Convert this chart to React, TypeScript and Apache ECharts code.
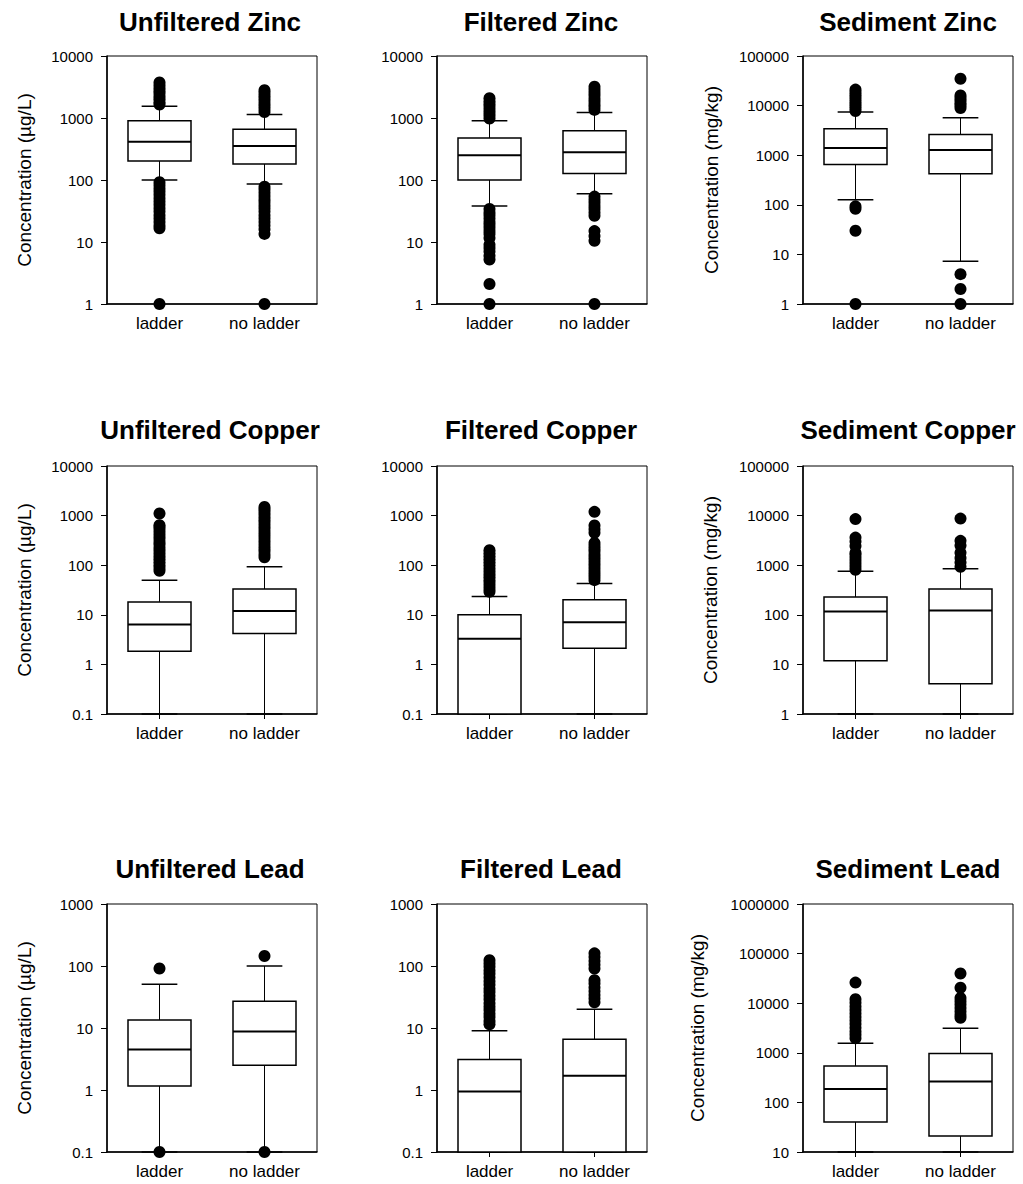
import React, { useEffect, useRef } from "react";
import * as echarts from "echarts";

const FONT = "'Liberation Sans', Arial, Helvetica, sans-serif";

const categories = ["ladder", "no ladder"];

const panelTitles = [
  "Unfiltered Zinc", "Filtered Zinc", "Sediment Zinc",
  "Unfiltered Copper", "Filtered Copper", "Sediment Copper",
  "Unfiltered Lead", "Filtered Lead", "Sediment Lead",
];

const yAxisNames = [
  "Concentration (µg/L)", "", "Concentration (mg/kg)",
  "Concentration (µg/L)", "", "Concentration (mg/kg)",
  "Concentration (µg/L)", "", "Concentration (mg/kg)",
];

const yMin = [1, 1, 1, 0.1, 0.1, 1, 0.1, 0.1, 10];
const yMax = [10000, 10000, 100000, 10000, 10000, 100000, 1000, 1000, 1000000];

// Box statistics per category: [lower whisker, Q1, median, Q3, upper whisker]
const unfilteredZincBoxes = [[100, 202, 414, 900, 1550], [86, 181, 352, 660, 1140]];
const filteredZincBoxes = [[38, 100, 250, 475, 903], [60, 127, 280, 624, 1230]];
const sedimentZincBoxes = [[126, 650, 1390, 3410, 7400], [7.25, 421, 1280, 2620, 5690]];
const unfilteredCopperBoxes = [[0.1, 1.84, 6.4, 18.2, 50], [0.1, 4.2, 11.9, 33, 93]];
const filteredCopperBoxes = [[0.1, 0.1, 3.28, 10, 23.5], [0.1, 2.12, 7.1, 20.2, 43]];
const sedimentCopperBoxes = [[1, 11.8, 116, 228, 758], [1, 4.07, 122, 331, 845]];
const unfilteredLeadBoxes = [[0.1, 1.16, 4.5, 13.5, 51], [0.1, 2.5, 8.75, 26.9, 100]];
const filteredLeadBoxes = [[0.1, 0.1, 0.95, 3.1, 9.0], [0.1, 0.1, 1.7, 6.6, 20]];
const sedimentLeadBoxes = [[10, 40.3, 187, 543, 1550], [10, 20.9, 264, 970, 3140]];

// Outliers per category: [ladder values, no ladder values]
const unfilteredZincOutliers = [
  [1650, 1800, 2000, 2200, 2450, 2700, 3000, 3350, 3750,
   92, 82, 73, 65, 58, 51, 45, 40, 35, 31, 27, 24, 21, 18.5, 16.7, 1],
  [1250, 1400, 1550, 1700, 1900, 2100, 2300, 2550, 2800,
   78, 70, 62, 55, 49, 44, 39, 35, 31, 27, 24, 21, 18.5, 16, 13.5, 1],
];
const filteredZincOutliers = [
  [980, 1100, 1220, 1350, 1500, 1660, 1850, 2090,
   34, 30, 27, 24, 21, 19, 17, 15, 13.5, 11.6, 9, 8, 7, 6, 5.2, 2.1, 1],
  [1350, 1500, 1650, 1850, 2050, 2300, 2550, 2850, 3200,
   54, 48, 43, 38, 34, 30, 26.5, 15, 12.5, 10.5, 1],
];
const sedimentZincOutliers = [
  [7800, 8700, 9700, 10800, 12000, 13400, 15000, 16800, 18800, 21000, 93, 83, 30, 1],
  [8900, 10000, 11200, 12600, 14200, 16000, 34800, 4.0, 2.0, 1],
];
const unfilteredCopperOutliers = [
  [77, 88, 100, 115, 132, 150, 172, 197, 225, 260, 295, 340, 390, 445, 510, 580, 640, 1100],
  [145, 165, 190, 215, 245, 280, 320, 365, 415, 475, 540, 620, 710, 810, 920, 1050, 1200, 1350, 1490],
];
const filteredCopperOutliers = [
  [29, 33, 38, 44, 50, 57, 65, 75, 86, 100, 115, 132, 152, 175, 200],
  [50, 57, 65, 74, 85, 97, 111, 127, 145, 165, 190, 215, 245, 280, 450, 530, 630, 1190],
];
const sedimentCopperOutliers = [
  [810, 930, 1070, 1230, 1420, 1630, 1780, 2450, 3000, 3600, 8500],
  [930, 1130, 1400, 1780, 2500, 3100, 8700],
];
const unfilteredLeadOutliers = [
  [91, 0.1],
  [145, 0.1],
];
const filteredLeadOutliers = [
  [11.5, 13, 15, 17, 19.5, 22, 25, 29, 33, 38, 43, 50, 57, 65, 75, 85, 97, 110, 124],
  [26, 30, 34, 39, 45, 52, 59, 91, 105, 120, 140, 160],
];
const sedimentLeadOutliers = [
  [1960, 2300, 2700, 3200, 3800, 4500, 5300, 6200, 7300, 8600, 10200, 12000, 26000],
  [5100, 5800, 6800, 8000, 9400, 11000, 12800, 20500, 39700],
];

const panelBoxes = [
  unfilteredZincBoxes, filteredZincBoxes, sedimentZincBoxes,
  unfilteredCopperBoxes, filteredCopperBoxes, sedimentCopperBoxes,
  unfilteredLeadBoxes, filteredLeadBoxes, sedimentLeadBoxes,
];
const panelOutliers = [
  unfilteredZincOutliers, filteredZincOutliers, sedimentZincOutliers,
  unfilteredCopperOutliers, filteredCopperOutliers, sedimentCopperOutliers,
  unfilteredLeadOutliers, filteredLeadOutliers, sedimentLeadOutliers,
];

// Layout
const colLeft = [107, 437, 803];
const rowTop = [56, 466, 904];
const gridW = 210;
const gridH = 248;
const titleX = [210, 541, 908];
const titleY = [22, 430, 869];
const nameGaps = [73, 0, 82, 73, 0, 83, 73, 0, 96];

function fmt(v: number) {
  if (v < 1) return String(Number(v.toPrecision(3)));
  return String(Math.round(v));
}

export default function App() {
  const ref = useRef<HTMLDivElement>(null);

  useEffect(() => {
    if (!ref.current) return;
    const chart = echarts.init(ref.current, undefined, { renderer: "svg" });

    const grid: any[] = [];
    const xAxis: any[] = [];
    const yAxis: any[] = [];
    const series: any[] = [];
    const graphic: any[] = [];

    for (let i = 0; i < 9; i++) {
      const r = Math.floor(i / 3);
      const c = i % 3;
      grid.push({
        left: colLeft[c],
        top: rowTop[r],
        width: gridW,
        height: gridH,
        show: true,
        borderColor: "#000",
        borderWidth: 1,
        backgroundColor: "transparent",
      });
      xAxis.push({
        gridIndex: i,
        type: "category",
        data: categories,
        boundaryGap: true,
        axisLine: { show: true, lineStyle: { color: "#000", width: 1.5 } },
        axisTick: { show: true, alignWithLabel: true, length: 5, lineStyle: { color: "#000", width: 1 } },
        axisLabel: { color: "#000", fontSize: 17, fontFamily: FONT, margin: 11 },
        splitLine: { show: false },
      });
      yAxis.push({
        gridIndex: i,
        type: "log",
        logBase: 10,
        min: yMin[i],
        max: yMax[i],
        axisLine: { show: true, lineStyle: { color: "#000", width: 1.5 } },
        axisTick: { show: true, length: 6, lineStyle: { color: "#000", width: 1 } },
        minorTick: { show: false },
        axisLabel: { color: "#000", fontSize: 15, fontFamily: FONT, margin: 14, formatter: (v: number) => fmt(v) },
        splitLine: { show: false },
        name: yAxisNames[i],
        nameLocation: "middle",
        nameGap: nameGaps[i],
        nameTextStyle: { color: "#000", fontSize: 19, fontFamily: FONT },
      });

      const boxData = panelBoxes[i].map((b, k) => [k, ...b]);
      series.push({
        type: "custom",
        xAxisIndex: i,
        yAxisIndex: i,
        encode: { x: 0, y: [1, 2, 3, 4, 5] },
        data: boxData,
        z: 2,
        renderItem: (params: any, api: any) => {
          const cat = api.value(0);
          const lo = api.value(1);
          const q1 = api.value(2);
          const med = api.value(3);
          const q3 = api.value(4);
          const hi = api.value(5);
          const pLo = api.coord([cat, lo]);
          const pQ1 = api.coord([cat, q1]);
          const pMed = api.coord([cat, med]);
          const pQ3 = api.coord([cat, q3]);
          const pHi = api.coord([cat, hi]);
          const band = Math.abs(api.coord([1, med])[0] - api.coord([0, med])[0]);
          const bw = band * 0.6;
          const cw = band * 0.34;
          const x = pMed[0];
          const stroke = { stroke: "#000", lineWidth: 1 };
          return {
            type: "group",
            children: [
              { type: "line", shape: { x1: x, y1: pHi[1], x2: x, y2: pQ3[1] }, style: stroke },
              { type: "line", shape: { x1: x, y1: pQ1[1], x2: x, y2: pLo[1] }, style: stroke },
              { type: "line", shape: { x1: x - cw / 2, y1: pHi[1], x2: x + cw / 2, y2: pHi[1] }, style: { stroke: "#000", lineWidth: 1.5 } },
              { type: "line", shape: { x1: x - cw / 2, y1: pLo[1], x2: x + cw / 2, y2: pLo[1] }, style: { stroke: "#000", lineWidth: 1.5 } },
              {
                type: "rect",
                shape: { x: x - bw / 2, y: pQ3[1], width: bw, height: pQ1[1] - pQ3[1] },
                style: { fill: "#fff", stroke: "#000", lineWidth: 1.5 },
              },
              { type: "line", shape: { x1: x - bw / 2, y1: pMed[1], x2: x + bw / 2, y2: pMed[1] }, style: { stroke: "#000", lineWidth: 2 } },
            ],
          };
        },
      });

      const outData: number[][] = [];
      panelOutliers[i].forEach((vals, k) => vals.forEach((v) => outData.push([k, v])));
      series.push({
        type: "scatter",
        xAxisIndex: i,
        yAxisIndex: i,
        data: outData,
        symbol: "circle",
        symbolSize: 12,
        itemStyle: { color: "#000", opacity: 1 },
        clip: false,
        z: 3,
      });

      graphic.push({
        type: "text",
        x: titleX[c],
        y: titleY[r],
        style: {
          text: panelTitles[i],
          font: `bold 26px ${FONT}`,
          fill: "#000",
          textAlign: "center",
          textVerticalAlign: "middle",
        },
      });
    }

    chart.setOption({
      animation: false,
      backgroundColor: "#fff",
      textStyle: { fontFamily: FONT },
      grid,
      xAxis,
      yAxis,
      series,
      graphic,
    });

    return () => chart.dispose();
  }, []);

  return (
    <div
      ref={ref}
      style={{ position: "absolute", left: 0, top: 0, width: 1023, height: 1184, background: "#fff" }}
    />
  );
}
